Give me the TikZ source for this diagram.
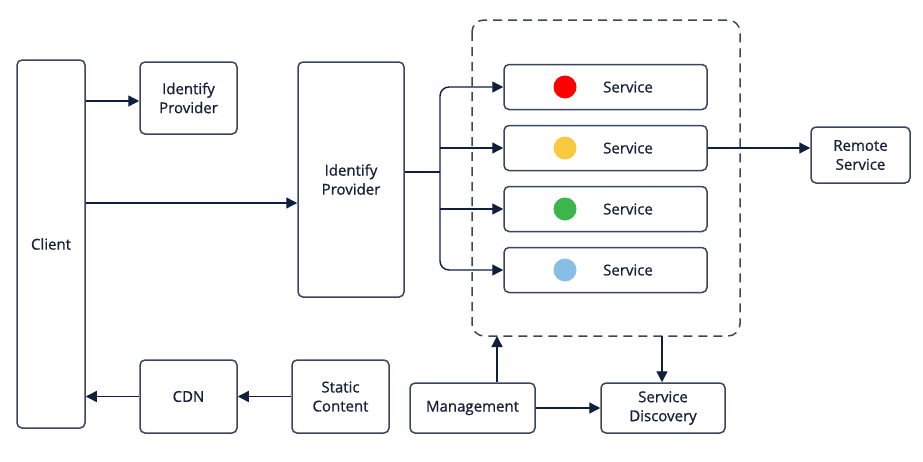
\documentclass[tikz,border=0pt]{standalone}
\usepackage{fontspec}
\setmainfont{Open Sans}[FakeBold=0.9]
\usetikzlibrary{arrows.meta,positioning}
\definecolor{ln}{HTML}{3A465E}
\definecolor{tip}{HTML}{0F1F3D}
\definecolor{tx}{HTML}{16213A}
\definecolor{cred}{HTML}{FF0000}
\definecolor{cyel}{HTML}{F9C940}
\definecolor{cgrn}{HTML}{3CB54A}
\definecolor{cblu}{HTML}{88BDE6}
\tikzset{
  box/.style={draw=ln, line width=1.5pt, rounded corners=5pt, fill=white, inner sep=0pt,
    align=center, text=tx, font=\fontsize{15}{19}\selectfont},
  arr/.style={draw=tip, line width=1.4pt, -{Triangle[length=11pt,width=11pt]}},
  plain/.style={draw=tip, line width=1.4pt},
  dot/.style={circle, inner sep=0pt, minimum size=23pt},
}
\begin{document}
\begin{tikzpicture}[x=1pt,y=-1pt]
\useasboundingbox (0,0) rectangle (923,461);
% dashed container
\draw[ln, line width=1.5pt, dash pattern=on 9pt off 6pt, rounded corners=12pt] (472,20) rectangle (740,336);
% nodes
\node[box, minimum width=68pt, minimum height=368pt] (client) at (51,244) {Client};
\node[box, minimum width=97pt, minimum height=72pt] (ip1) at (188.5,98) {Identify\\Provider};
\node[box, minimum width=106pt, minimum height=235pt] (ip2) at (351,179.5) {Identify\\Provider};
\node[box, minimum width=203pt, minimum height=45pt] (s1) at (605.5,87) {};
\node[box, minimum width=203pt, minimum height=45pt] (s2) at (605.5,148) {};
\node[box, minimum width=203pt, minimum height=45pt] (s3) at (605.5,209) {};
\node[box, minimum width=203pt, minimum height=45pt] (s4) at (605.5,270) {};
\foreach \n/\c in {s1/cred,s2/cyel,s3/cgrn,s4/cblu}{
  \node[dot, fill=\c] (\n d) at ([xshift=-40.5pt]\n.center) {};
  \node[text=tx, font=\fontsize{15}{19}\selectfont] (\n t) at ([xshift=22.5pt]\n.center) {Service};
}
\node[box, minimum width=99pt, minimum height=56pt] (remote) at (860.5,155) {Remote\\Service};
\node[box, minimum width=97pt, minimum height=73pt] (cdn) at (188.5,396.5) {CDN};
\node[box, minimum width=97pt, minimum height=73pt] (static) at (340.5,396.5) {Static\\Content};
\node[box, minimum width=125pt, minimum height=50pt] (mgmt) at (472.5,408) {Management};
\node[box, minimum width=124pt, minimum height=50pt] (sd) at (663,408) {Service\\Discovery};
% coordinates
\coordinate (trunk) at (440,172);
\coordinate (row1) at (0,101);
\coordinate (row2) at (0,203);
\coordinate (dbl) at (497,336);
\coordinate (dbr) at (662,336);
% connectors
\draw[arr] (client.east|-row1) -- (ip1.west|-row1);
\draw[arr] (client.east|-row2) -- (ip2.west|-row2);
\draw[plain] (ip2.east|-trunk) -- (trunk);
\draw[arr, rounded corners=9pt] (trunk) |- (s1.west);
\draw[arr, rounded corners=9pt] (trunk) |- (s4.west);
\draw[arr] (trunk|-s2.west) -- (s2.west);
\draw[arr] (trunk|-s3.west) -- (s3.west);
\draw[arr] (s2.east) -- (remote.west|-s2.east);
\draw[arr] (static.west) -- (cdn.east);
\draw[arr] (cdn.west) -- (client.east|-cdn.west);
\draw[arr] (mgmt.north-|dbl) -- (dbl);
\draw[arr] (dbr) -- (sd.north-|dbr);
\draw[arr] (mgmt.east) -- (sd.west);
\end{tikzpicture}
\end{document}
